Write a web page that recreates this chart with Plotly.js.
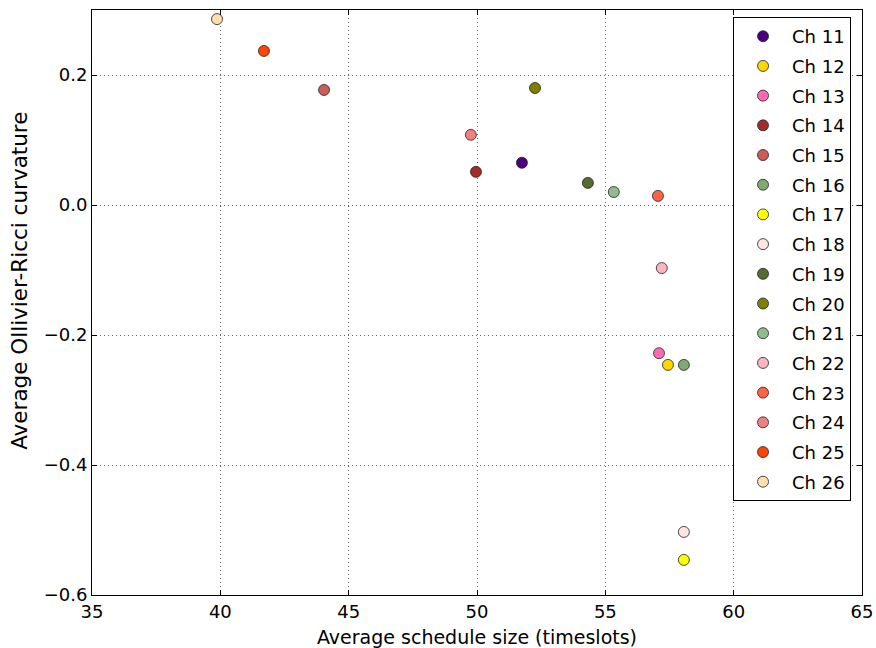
<!DOCTYPE html>
<html>
<head>
<meta charset="utf-8">
<script src="https://cdn.plot.ly/plotly-3.0.1.min.js"></script>
<style>html,body{margin:0;padding:0;background:#fff;}#chart{width:876px;height:648px;}</style>
</head>
<body>
<div id="chart"></div>
<script>
const channels = ["Ch 11","Ch 12","Ch 13","Ch 14","Ch 15","Ch 16","Ch 17","Ch 18","Ch 19","Ch 20","Ch 21","Ch 22","Ch 23","Ch 24","Ch 25","Ch 26"];
const scheduleSize = [51.75, 57.44, 57.09, 49.96, 44.04, 58.06, 58.06, 58.06, 54.32, 52.26, 55.33, 57.20, 57.05, 49.76, 41.70, 39.87];
const curvature = [0.065, -0.246, -0.228, 0.051, 0.177, -0.246, -0.546, -0.503, 0.034, 0.180, 0.020, -0.097, 0.014, 0.108, 0.237, 0.286];
const colors = ["#4b0082","#ffd700","#ff69b4","#a52a2a","#cd5c5c","#80a870","#ffff00","#ffe4e1","#556b2f","#808000","#8fbc8f","#ffb6c1","#ff6347","#f08080","#ff4500","#ffdead"];
const xTitle = 'Average schedule size (timeslots)';
const yTitle = 'Average Ollivier-Ricci curvature';

const traces = channels.map((name, i) => ({
  type: 'scatter',
  mode: 'markers',
  name: name,
  legendgroup: name,
  x: [scheduleSize[i]],
  y: [curvature[i]],
  marker: {color: colors[i], size: 11, line: {color: '#222', width: 0.8}}
}));

const axisCommon = {
  showline: true, linecolor: '#000', linewidth: 1, mirror: 'ticks',
  ticks: 'inside', ticklen: 5, tickcolor: '#000', tickwidth: 1,
  showgrid: true, gridcolor: '#666', griddash: '1px,3px', gridwidth: 1,
  zeroline: false,
  tickfont: {family: 'DejaVu Sans', size: 18, color: '#000'}
};

const layout = {
  width: 876, height: 648,
  margin: {l: 92, r: 14, t: 10, b: 53},
  paper_bgcolor: '#fff', plot_bgcolor: '#fff',
  font: {family: 'DejaVu Sans', color: '#000'},
  showlegend: true,
  xaxis: Object.assign({}, axisCommon, {
    range: [35, 65], dtick: 5, tick0: 35,
    title: {text: xTitle, font: {family: 'DejaVu Sans', size: 19}, standoff: 10}
  }),
  yaxis: Object.assign({}, axisCommon, {
    range: [-0.6, 0.3], dtick: 0.2, tick0: -0.6, tickformat: '.1f'
  }),
  annotations: [{
    text: yTitle, textangle: -90, showarrow: false,
    xref: 'paper', yref: 'paper', x: 0, y: 0.537,
    xanchor: 'center', yanchor: 'middle', xshift: -72,
    font: {family: 'DejaVu Sans', size: 21.5, color: '#000'}
  }],
  legend: {
    x: 0.8325, y: 0.988, xanchor: 'left', yanchor: 'top',
    bordercolor: '#000', borderwidth: 1, bgcolor: '#fff',
    font: {family: 'DejaVu Sans', size: 18, color: '#000'},
    itemwidth: 48,
    tracegroupgap: 3.3
  }
};

Plotly.newPlot('chart', traces, layout, {displayModeBar: false, staticPlot: true});
</script>
</body>
</html>
